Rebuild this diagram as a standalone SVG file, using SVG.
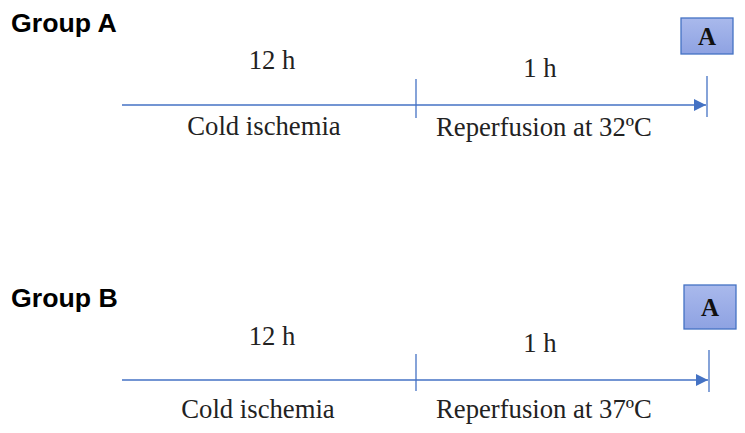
<svg xmlns="http://www.w3.org/2000/svg" width="745" height="433" viewBox="0 0 745 433">
<defs>
<linearGradient id="g" x1="0" y1="0" x2="0" y2="1">
<stop offset="0" stop-color="#a9b9ec"/>
<stop offset="1" stop-color="#8ea2e2"/>
</linearGradient>
<marker id="ah" viewBox="0 0 10 10" refX="10" refY="5" markerWidth="13" markerHeight="12" markerUnits="userSpaceOnUse" orient="auto">
<path d="M0,0 L10,5 L0,10 z" fill="#4472c4"/>
</marker>
<style>
.ln{stroke:#4472c4;stroke-width:1.3;fill:none}
.t{font-family:"Liberation Serif",serif;font-size:26.7px;fill:#222}
.h{font-family:"Liberation Sans",sans-serif;font-size:26.7px;font-weight:bold;fill:#000}
.bx{fill:url(#g);stroke:#4472c4;stroke-width:1.3}
.bt{font-family:"Liberation Serif",serif;font-size:25px;font-weight:bold;fill:#111;text-anchor:middle}
</style>
</defs>
<g id="connectors">
<line class="ln" x1="122" y1="105" x2="706" y2="105" marker-end="url(#ah)"/>
<line class="ln" x1="416" y1="79" x2="416" y2="118"/>
<line class="ln" x1="707" y1="76" x2="707" y2="117"/>
<line class="ln" x1="122" y1="380" x2="708" y2="380" marker-end="url(#ah)"/>
<line class="ln" x1="416" y1="354" x2="416" y2="391"/>
<line class="ln" x1="709" y1="350" x2="709" y2="392"/>
</g>
<g id="groupA">
<text class="h" x="11" y="32">Group A</text>
<text class="t" x="272" y="69" text-anchor="middle">12 h</text>
<text class="t" x="540" y="77" text-anchor="middle">1 h</text>
<text class="t" x="264" y="135" text-anchor="middle">Cold ischemia</text>
<text class="t" x="436" y="136">Reperfusion at 32ºC</text>
</g>
<g id="boxA">
<rect class="bx" x="681" y="18" width="52" height="36"/>
<text class="bt" x="707" y="45">A</text>
</g>
<g id="groupB">
<text class="h" x="11" y="307">Group B</text>
<text class="t" x="272" y="345" text-anchor="middle">12 h</text>
<text class="t" x="540" y="352" text-anchor="middle">1 h</text>
<text class="t" x="258" y="418" text-anchor="middle">Cold ischemia</text>
<text class="t" x="436" y="418">Reperfusion at 37ºC</text>
</g>
<g id="boxB">
<rect class="bx" x="684" y="285" width="52" height="44"/>
<text class="bt" x="710" y="316">A</text>
</g>
</svg>
